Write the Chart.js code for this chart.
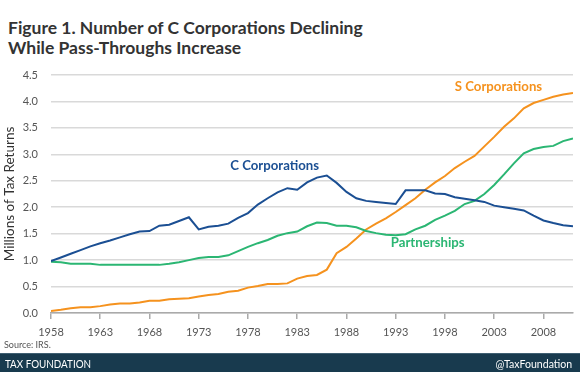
<!DOCTYPE html>
<html>
<head>
<meta charset="utf-8">
<script src="https://cdn.jsdelivr.net/npm/chart.js@4.4.1/dist/chart.umd.min.js"></script>
<style>
  html, body { margin: 0; padding: 0; background: #fff; }
  body { width: 580px; height: 372px; position: relative; overflow: hidden; font-family: Lato, sans-serif; }
  #title { position: absolute; left: 8px; top: 18px; font-size: 17.5px; font-weight: 700; line-height: 19.5px; color: #333; }
  #chartBox { position: absolute; left: 0; top: 0; width: 580px; height: 372px; }
  #source { position: absolute; left: 4px; top: 339px; font-size: 9px; color: #555; }
  #footer { position: absolute; left: 0; top: 353px; width: 580px; height: 19px; background: #183a4e; border-top: 1px solid #3f5f72; box-sizing: border-box; }
  #footer span { position: absolute; top: 2px; font-size: 12px; color: #fff; white-space: nowrap; }
  #footer .l { left: 5px; transform: scaleX(0.82); transform-origin: left center; }
  #footer .r { right: 8px; transform: scaleX(0.88); transform-origin: right center; }
</style>
</head>
<body>
<div id="title">Figure 1. Number of C Corporations Declining<br>While Pass-Throughs Increase</div>
<div id="chartBox"><canvas id="chart"></canvas></div>
<div id="source">Source: IRS.</div>
<div id="footer"><span class="l">TAX FOUNDATION</span><span class="r">@TaxFoundation</span></div>

<script>
// --- Data (millions of returns), 1958-2011 -----------------------
const years = [];
for (let y = 1958; y <= 2011; y++) years.push(y);

const cCorps = [0.98, 1.05, 1.12, 1.19, 1.26, 1.32, 1.37, 1.43, 1.49, 1.54,
  1.55, 1.65, 1.67, 1.74, 1.81, 1.58, 1.63, 1.65, 1.69, 1.80,
  1.89, 2.05, 2.17, 2.28, 2.36, 2.33, 2.47, 2.56, 2.60, 2.46,
  2.29, 2.17, 2.12, 2.10, 2.08, 2.06, 2.32, 2.32, 2.32, 2.26,
  2.25, 2.19, 2.16, 2.13, 2.10, 2.03, 2.00, 1.97, 1.94, 1.84,
  1.75, 1.70, 1.66, 1.64];

const partnerships = [0.97, 0.96, 0.93, 0.93, 0.93, 0.91, 0.91, 0.91, 0.91, 0.91,
  0.91, 0.91, 0.93, 0.96, 1.00, 1.04, 1.06, 1.06, 1.09, 1.17,
  1.25, 1.32, 1.38, 1.46, 1.51, 1.54, 1.64, 1.71, 1.70, 1.65,
  1.65, 1.62, 1.55, 1.51, 1.48, 1.47, 1.49, 1.58, 1.65, 1.76,
  1.84, 1.93, 2.06, 2.12, 2.25, 2.42, 2.62, 2.83, 3.02, 3.10,
  3.14, 3.16, 3.25, 3.30];

const sCorps = [0.04, 0.06, 0.09, 0.11, 0.11, 0.13, 0.16, 0.18, 0.18, 0.20,
  0.23, 0.23, 0.26, 0.27, 0.28, 0.31, 0.34, 0.36, 0.40, 0.42,
  0.48, 0.51, 0.55, 0.55, 0.56, 0.65, 0.70, 0.72, 0.82, 1.13,
  1.25, 1.41, 1.58, 1.69, 1.79, 1.91, 2.04, 2.17, 2.33, 2.47,
  2.59, 2.74, 2.86, 2.97, 3.15, 3.33, 3.52, 3.68, 3.87, 3.97,
  4.03, 4.09, 4.13, 4.16];

const xTicks = [1958, 1963, 1968, 1973, 1978, 1983, 1988, 1993, 1998, 2003, 2008];

// series labels drawn inside the plot, anchored in data units
const seriesLabels = [
  { text: 'C Corporations', year: 1976.2, value: 2.78, color: '#1b4f93' },
  { text: 'S Corporations', year: 1999.0, value: 4.27, color: '#f5921e' },
  { text: 'Partnerships',   year: 1992.5, value: 1.32, color: '#2bb673' }
];

const toPoints = arr => arr.map((v, i) => ({ x: years[i], y: v }));

const labelPlugin = {
  id: 'seriesLabels',
  afterDatasetsDraw(chart) {
    const { ctx, scales } = chart;
    ctx.save();
    ctx.font = "bold 13.2px Lato";
    ctx.textAlign = 'left';
    ctx.textBaseline = 'middle';
    seriesLabels.forEach(l => {
      ctx.fillStyle = l.color;
      ctx.fillText(l.text, scales.x.getPixelForValue(l.year), scales.y.getPixelForValue(l.value));
    });
    ctx.restore();
  }
};

new Chart(document.getElementById('chart'), {
  type: 'line',
  data: {
    datasets: [
      { label: 'C Corporations', data: toPoints(cCorps), borderColor: '#1b4f93' },
      { label: 'Partnerships', data: toPoints(partnerships), borderColor: '#2bb673' },
      { label: 'S Corporations', data: toPoints(sCorps), borderColor: '#f5921e' }
    ]
  },
  options: {
    responsive: true,
    maintainAspectRatio: false,
    animation: false,
    layout: { padding: { left: 0, right: 7, top: 75, bottom: 19 } },
    elements: {
      line: { borderWidth: 2, tension: 0 },
      point: { radius: 0 }
    },
    plugins: { legend: { display: false }, tooltip: { enabled: false } },
    scales: {
      x: {
        type: 'linear',
        min: 1958,
        max: 2011,
        afterBuildTicks: s => { s.ticks = xTicks.map(v => ({ value: v })); },
        afterFit: s => { s.height = 40; },
        grid: { drawOnChartArea: false, drawTicks: true, tickLength: 6, color: '#aaa', lineWidth: 1.5 },
        border: { color: '#aaa', width: 1.5 },
        ticks: { color: '#555', font: { family: 'Lato', size: 11 }, padding: 7, maxRotation: 0, callback: v => String(v) }
      },
      y: {
        min: 0,
        max: 4.5,
        afterFit: s => { s.width = 51; },
        grid: { color: '#d9d9d9', lineWidth: 1.5, drawTicks: false },
        border: { display: false },
        ticks: { stepSize: 0.5, color: '#555', font: { family: 'Lato', size: 11 }, padding: 13, callback: v => v.toFixed(1) },
        title: { display: true, text: 'Millions of Tax Returns', color: '#333', font: { family: 'Lato', size: 13.5 }, padding: { top: 2, bottom: 0 } }
      }
    }
  },
  plugins: [labelPlugin]
});
</script>
</body>
</html>
